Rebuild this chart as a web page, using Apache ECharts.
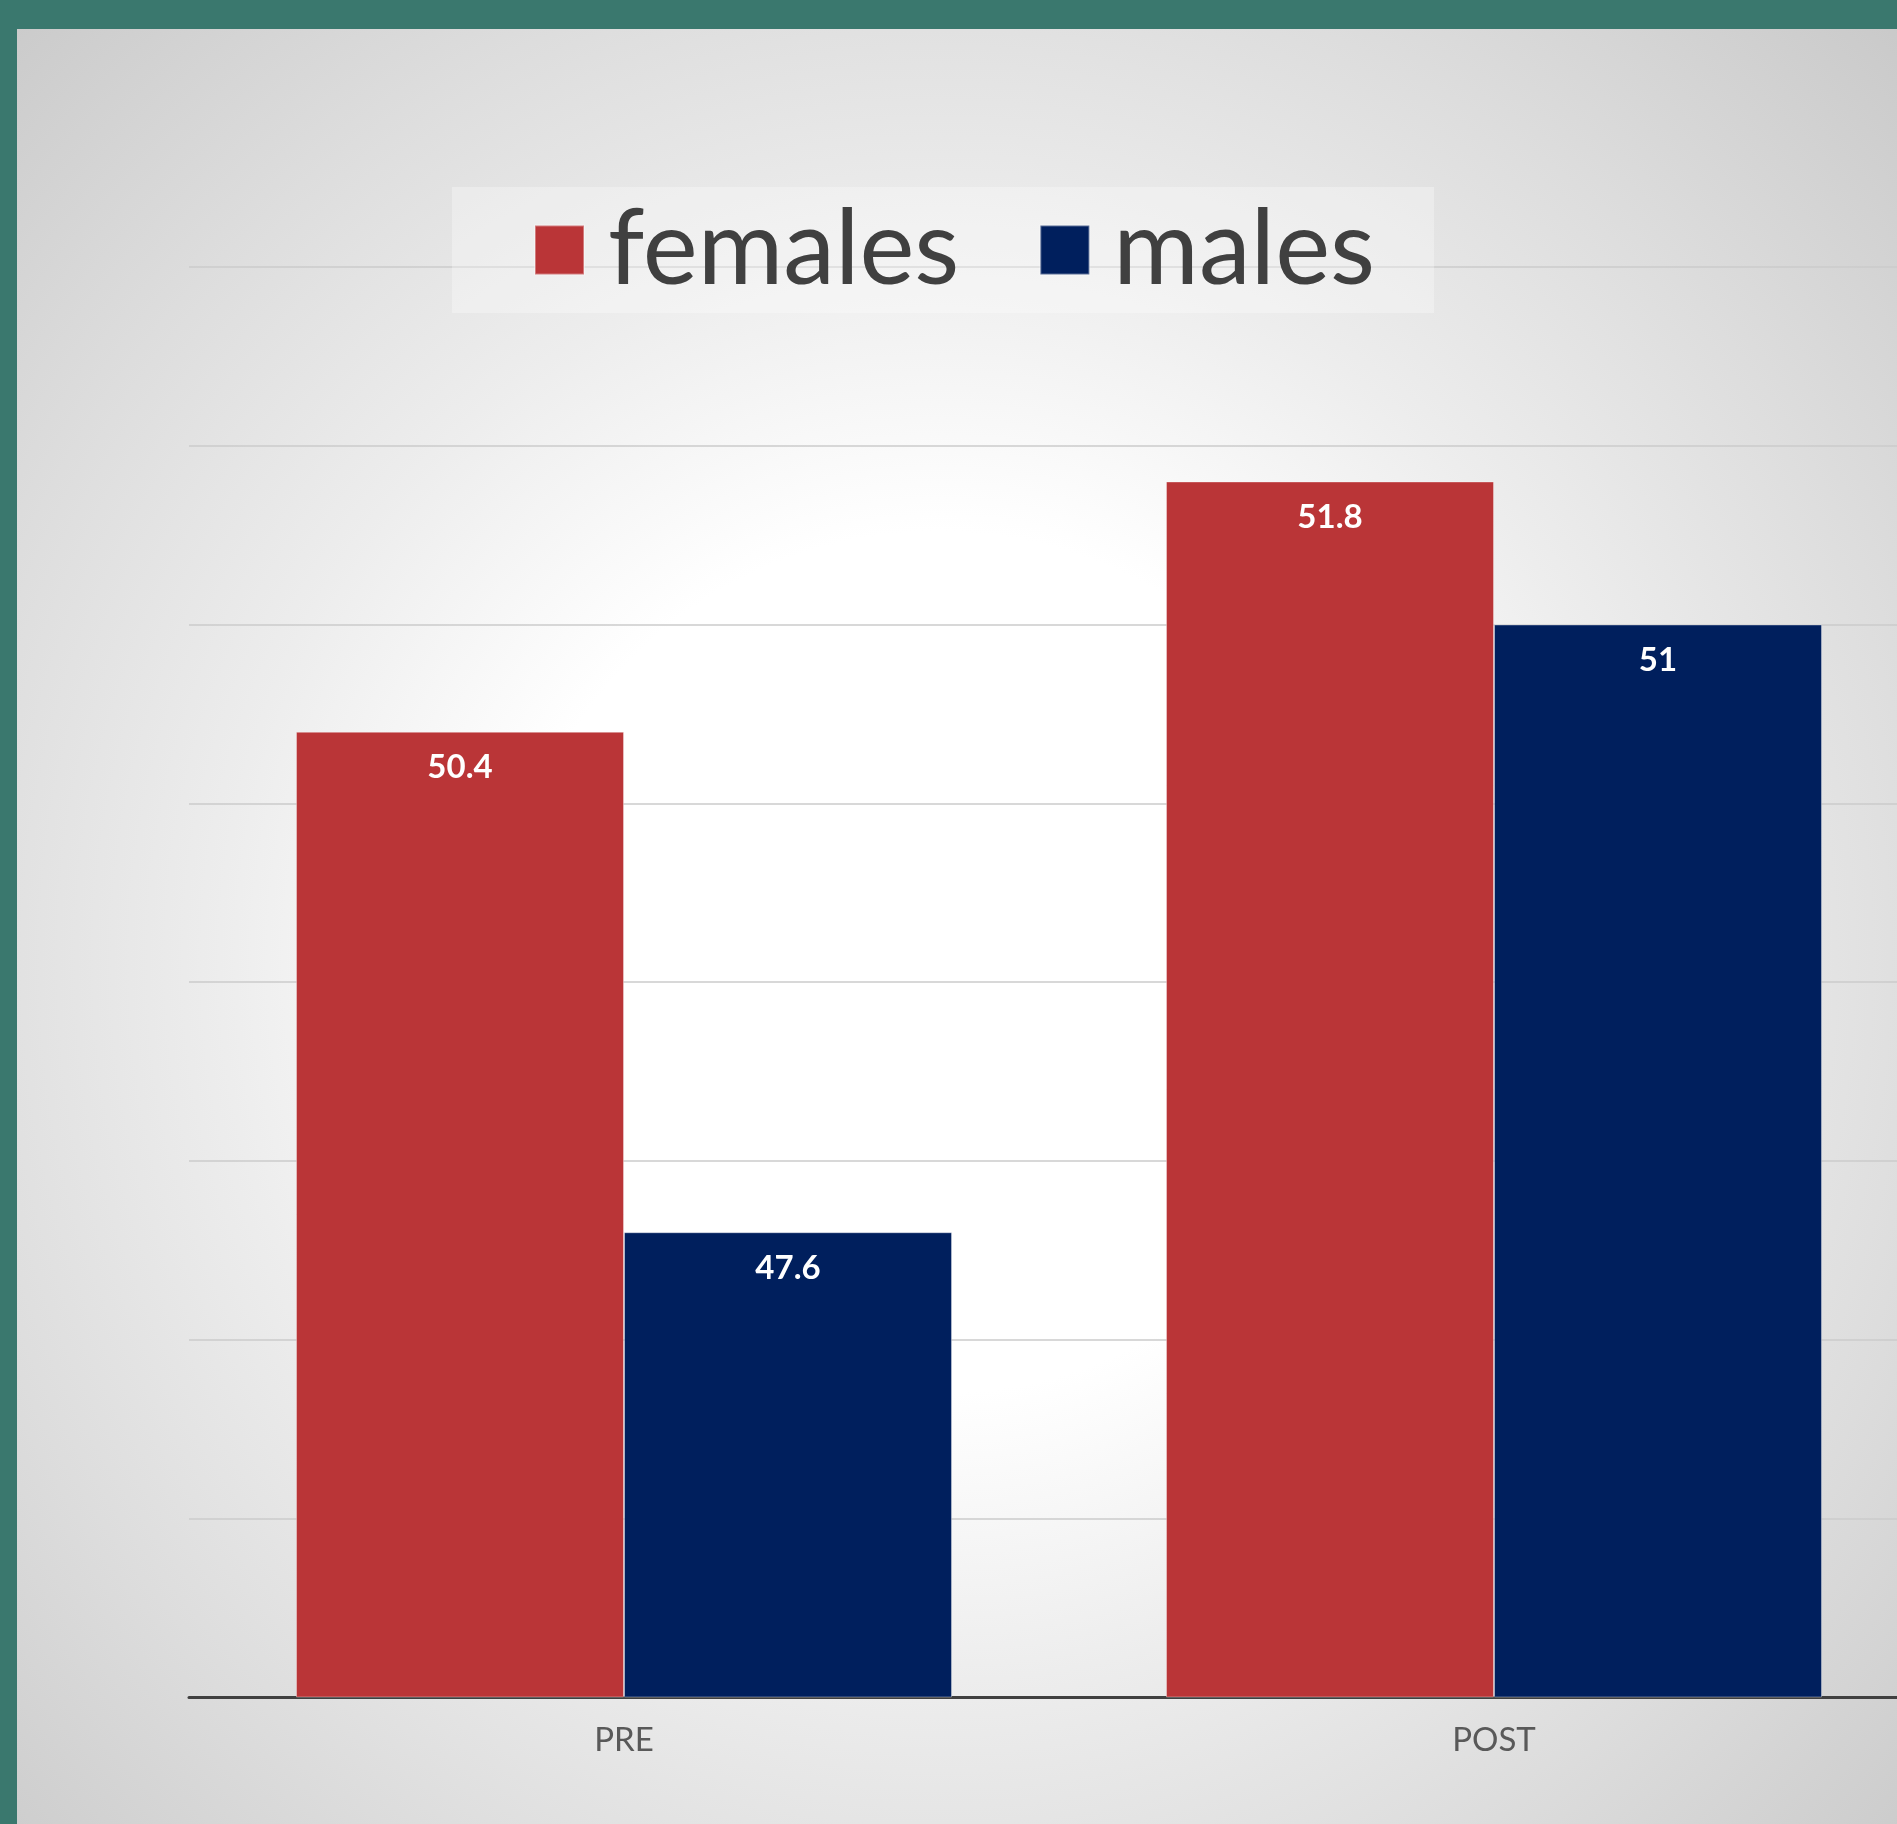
<!DOCTYPE html>
<html>
<head>
<meta charset="utf-8">
<script src="https://cdn.jsdelivr.net/npm/echarts@6/dist/echarts.min.js"></script>
<style>
  html, body { margin: 0; padding: 0; background: #3a786e; }
  #chart { width: 1897px; height: 1824px; }
</style>
</head>
<body>
<div id="chart"></div>
<script>
const categories = ['PRE', 'POST'];
const seriesNames = ['females', 'males'];
const females = [50.4, 51.8];
const males = [47.6, 51];
const yMin = 45, yMax = 53, yStep = 1;

const chart = echarts.init(document.getElementById('chart'));
const font = 'Lato, "Open Sans", sans-serif';

chart.setOption({
  backgroundColor: '#3a786e',
  animation: false,
  graphic: [{
    type: 'rect',
    z: -100,
    silent: true,
    shape: { x: 17, y: 29, width: 1880, height: 1795 },
    style: {
      fill: new echarts.graphic.RadialGradient(0.49, 0.52, 0.8, [
        { offset: 0, color: '#ffffff' },
        { offset: 0.3, color: '#ffffff' },
        { offset: 0.5, color: '#ededed' },
        { offset: 0.7, color: '#dddddd' },
        { offset: 1, color: '#c4c4c4' }
      ])
    }
  }],
  legend: {
    data: seriesNames,
    left: 452,
    top: 187,
    orient: 'horizontal',
    itemWidth: 49,
    itemHeight: 49,
    itemGap: 80,
    padding: [11, 59, 11, 82],
    backgroundColor: 'rgba(255,255,255,0.3)',
    icon: 'rect',
    textStyle: {
      fontFamily: font,
      fontSize: 104,
      color: '#404040',
      lineHeight: 49,
      padding: [0, 0, 0, 19]
    }
  },
  grid: {
    left: 189,
    top: 267,
    width: 1740,
    height: 1430,
    outerBoundsMode: 'none',
    containLabel: false
  },
  xAxis: {
    type: 'category',
    data: categories,
    axisTick: { show: false },
    axisLine: { lineStyle: { color: '#404040', width: 3 } },
    axisLabel: {
      fontFamily: font,
      fontSize: 33,
      lineHeight: 40,
      color: '#595959',
      margin: 23
    }
  },
  yAxis: {
    type: 'value',
    min: yMin,
    max: yMax,
    interval: yStep,
    axisLabel: { show: false },
    axisLine: { show: false },
    axisTick: { show: false },
    splitLine: { lineStyle: { color: '#cbcbcb', width: 1.5 } }
  },
  series: [
    {
      name: seriesNames[0],
      type: 'bar',
      data: females,
      barWidth: 328,
      barGap: '0%',
      itemStyle: { color: '#ba3537', borderColor: 'rgba(255,255,255,0.35)', borderWidth: 1 },
      label: {
        show: true,
        position: 'insideTop',
        distance: 16,
        fontFamily: font,
        fontWeight: 'bold',
        fontSize: 33,
        lineHeight: 40,
        color: '#ffffff'
      }
    },
    {
      name: seriesNames[1],
      type: 'bar',
      data: males,
      barWidth: 328,
      barGap: '0%',
      itemStyle: { color: '#001f5d', borderColor: 'rgba(255,255,255,0.35)', borderWidth: 1 },
      label: {
        show: true,
        position: 'insideTop',
        distance: 16,
        fontFamily: font,
        fontWeight: 'bold',
        fontSize: 33,
        lineHeight: 40,
        color: '#ffffff'
      }
    }
  ]
});
</script>
</body>
</html>
